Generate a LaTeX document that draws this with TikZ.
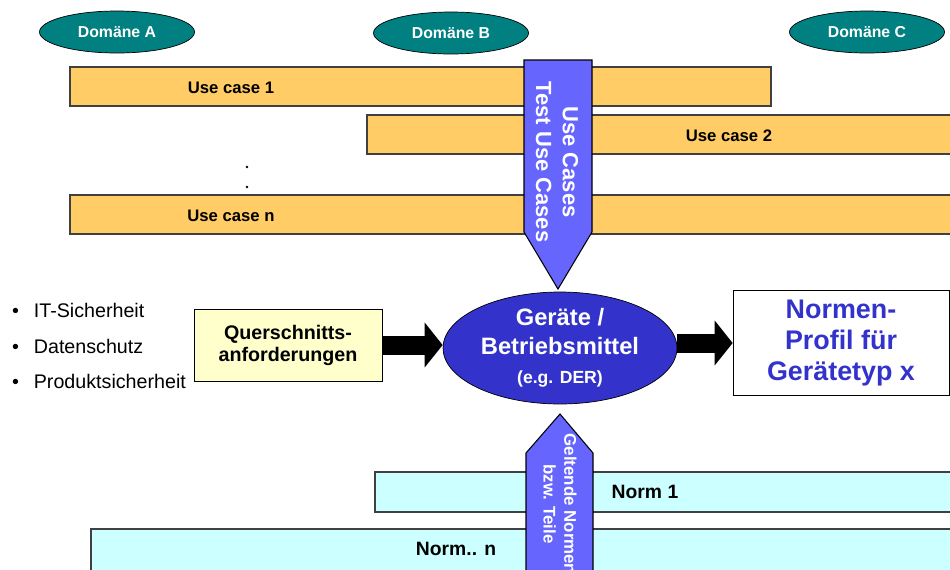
\documentclass[tikz,border=0pt]{standalone}
\usepackage{fontspec}
\setmainfont{Liberation Sans}
\usepackage{tikz}
\usetikzlibrary{arrows.meta,positioning,shapes.geometric}

\definecolor{domteal}{HTML}{008080}
\definecolor{ucorange}{HTML}{FFCC66}
\definecolor{normcyan}{HTML}{CCFFFF}
\definecolor{querylw}{HTML}{FFFFCC}
\definecolor{devblue}{HTML}{3333CC}
\definecolor{arrviolet}{HTML}{6666FF}
\definecolor{bargray}{HTML}{404040}

\begin{document}
\begin{tikzpicture}[
    x=0.02cm, y=-0.02cm,
    font=\sffamily,
    domnode/.style={
        ellipse,
        draw=black,
        fill=domteal,
        text=white,
        font=\fontsize{9}{10}\selectfont\bfseries,
        minimum width=3.1cm,
        minimum height=0.84cm,
        inner sep=0pt
    },
    bar/.style={
        draw=bargray,
        line width=0.9pt
    },
    barlabel/.style={
        font=\fontsize{9.5}{11}\selectfont\bfseries
    },
    normlabel/.style={
        font=\fontsize{11}{13}\selectfont\bfseries
    },
    bigarrow/.style={
        draw=black,
        fill=arrviolet,
        line width=0.6pt
    },
    blockarrow/.style={
        draw=black,
        line width=0.38cm,
        -{Triangle[width=0.88cm,length=0.36cm]}
    },
    bullet/.style={
        anchor=west,
        font=\fontsize{11.2}{13}\selectfont
    }
  ]
  \useasboundingbox (0,0) rectangle (950,569);

  % domains on top
  \node [domnode] (domA) at (117,32) {Domäne A};
  \node [domnode] (domB) at (451,33) {Domäne B};
  \node [domnode] (domC) at (867,32) {Domäne C};

  % use case bars
  \draw [bar, fill=ucorange] (70,67) rectangle (771,106);
  \node [barlabel] (uc1) at (231,88) {Use case 1};
  \draw [bar, fill=ucorange] (367,115) rectangle (965,154);
  \node [barlabel] (uc2) at (729,136) {Use case 2};
  \fill (247,167) circle (1.3);
  \fill (247,187) circle (1.3);
  \draw [bar, fill=ucorange] (70,195) rectangle (965,234);
  \node [barlabel] (ucn) at (231,216) {Use case n};

  % norm bars
  \draw [bar, fill=normcyan] (375,472) rectangle (965,512);
  \node [normlabel] (norm1) at (645,492) {Norm 1};
  \draw [bar, fill=normcyan] (91,529) rectangle (965,575);
  \node [normlabel] (normn) at (456,549) {Norm.. n};

  % the two big arrows
  \draw [bigarrow] (524,60) -- (592,60) -- (592,232) -- (558,289) -- (524,232) -- cycle;
  \node [rotate=-90, text=white, align=center,
         font=\fontsize{12.5}{15.3}\selectfont\bfseries] (ucarrow) at (557,162)
    {Use Cases\\Test Use Cases};

  \draw [bigarrow] (526,590) -- (526,453) -- (560,414) -- (593,453) -- (593,590) -- cycle;
  \node [rotate=-90, text=white, align=center,
         font=\fontsize{9.6}{11.8}\selectfont\bfseries] (normarrow) at (560,504)
    {Geltende Normen\\bzw. Teile};

  % middle row
  \node [ellipse, draw=black, fill=devblue, text=white, align=center,
         minimum width=4.68cm, minimum height=2.24cm, inner sep=0pt,
         font=\fontsize{13.5}{16.4}\selectfont\bfseries] (geraete) at (560,348)
    {Geräte /\\Betriebsmittel\\{\fontsize{10}{14}\selectfont (e.g. DER)}};

  \node [rectangle, draw=black, fill=querylw, align=center,
         minimum width=3.76cm, minimum height=1.44cm, inner sep=0pt,
         font=\fontsize{11.2}{12.5}\selectfont\bfseries] (quer) at (288,345)
    {Querschnitts-\\anforderungen};

  \node [rectangle, draw=black, fill=white, text=devblue, align=center,
         minimum width=4.32cm, minimum height=2.1cm, inner sep=0pt,
         font=\fontsize{15.3}{17.6}\selectfont\bfseries] (normen) at (841,343)
    {Normen-\\Profil für\\Gerätetyp x};

  \draw [blockarrow] (quer.east) -- (quer.east -| geraete.west);
  \draw [blockarrow] (geraete.east |- normen.west) -- (normen.west);

  % cross-cutting aspects
  \node [bullet] (it) at (6,310) {\textbullet\hspace{0.75em}IT-Sicherheit};
  \node [bullet] (ds) at (6,346) {\textbullet\hspace{0.75em}Datenschutz};
  \node [bullet] (ps) at (6,381) {\textbullet\hspace{0.75em}Produktsicherheit};

\end{tikzpicture}
\end{document}
